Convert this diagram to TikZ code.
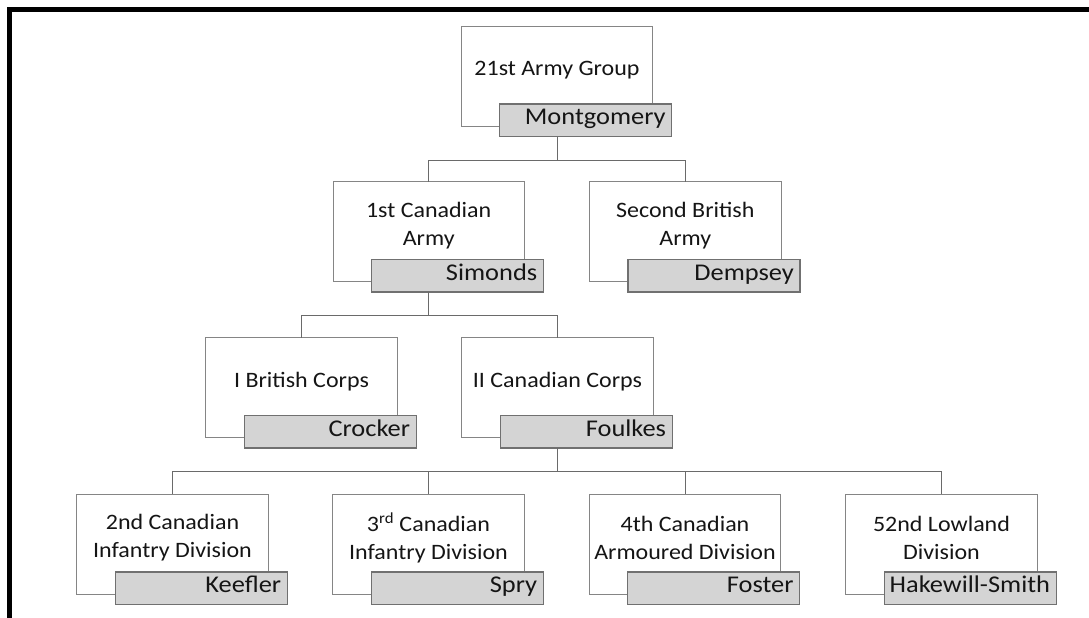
\documentclass[tikz,border=0pt]{standalone}
\usepackage{fontspec}
\setmainfont{Carlito}[FakeStretch=1.09]
\newfontfamily\cmdfont[FakeStretch=1.10]{Carlito}
\usetikzlibrary{calc}
\definecolor{boxline}{HTML}{858585}
\definecolor{cfill}{HTML}{D4D4D4}
\definecolor{cline}{HTML}{707070}
\definecolor{wirec}{HTML}{6A6A6A}
\definecolor{txt}{HTML}{151515}
\newcommand\unitbox[5]{%
  \node[ubox] (#1-box) at (#2,#3) {};
  \node[utext] (#1-lbl) at ([yshift=6]#1-box.center) {#4};
  \node[cbox] (#1-cmd) at ([xshift=38.5,yshift=22]#1-box.south west) {};
  \node[ctext] (#1-name) at ([xshift=-6,yshift=11.7]#1-cmd.south east) {#5};
}
\begin{document}
\begin{tikzpicture}[x=1pt,y=1pt,
  ubox/.style={draw=boxline, line width=0.9pt, fill=white, minimum width=191.5pt, minimum height=100pt, inner sep=0pt, outer sep=0pt},
  utext/.style={font=\fontsize{22}{28}\selectfont, text=txt, align=center, inner sep=0pt},
  cbox/.style={draw=cline, line width=1.3pt, fill=cfill, minimum width=172pt, minimum height=32.5pt, inner sep=0pt, outer sep=0pt, anchor=north west},
  ctext/.style={font=\cmdfont\fontsize{24}{28}\selectfont, text=txt, inner sep=0pt, anchor=base east},
  wire/.style={draw=wirec, line width=0.9pt},
  frame/.style={draw=black, line width=5pt, line join=miter}
]
\useasboundingbox (0,0) rectangle (1089,-618);
\draw[frame] (9.5,-618) -- (9.5,-9.2) -- (1089,-9.2);

\coordinate (bus1) at (0,-160);
\coordinate (bus2) at (0,-315);
\coordinate (bus3) at (0,-471.5);

\unitbox{ag}{557}{-76}{21st Army Group}{Montgomery}
\unitbox{cda}{428.7}{-231.5}{1st Canadian\\Army}{Simonds}
\unitbox{bra}{685.3}{-231.5}{Second British\\Army}{Dempsey}
\unitbox{bc}{301.5}{-387.5}{I British Corps}{Crocker}
\unitbox{cc}{557.5}{-387.5}{II Canadian Corps}{Foulkes}
\unitbox{d2}{172.5}{-544}{2nd Canadian\\Infantry Division}{Keefler}
\unitbox{d3}{428.5}{-544}{3\textsuperscript{rd} Canadian\\Infantry Division}{Spry}
\unitbox{d4}{685}{-544}{4th Canadian\\Armoured Division}{Foster}
\unitbox{d52}{941.5}{-544}{52nd Lowland\\Division}{Hakewill-Smith}

\draw[wire] (ag-box |- ag-cmd.south) -- (ag-box |- bus1) -| (cda-box.north);
\draw[wire] (ag-box |- bus1) -| (bra-box.north);
\draw[wire] (cda-box |- cda-cmd.south) -- (cda-box |- bus2) -| (bc-box.north);
\draw[wire] (cda-box |- bus2) -| (cc-box.north);
\draw[wire] (cc-box |- cc-cmd.south) -- (cc-box |- bus3) -| (d2-box.north);
\draw[wire] (cc-box |- bus3) -| (d3-box.north);
\draw[wire] (cc-box |- bus3) -| (d4-box.north);
\draw[wire] (cc-box |- bus3) -| (d52-box.north);
\end{tikzpicture}
\end{document}
